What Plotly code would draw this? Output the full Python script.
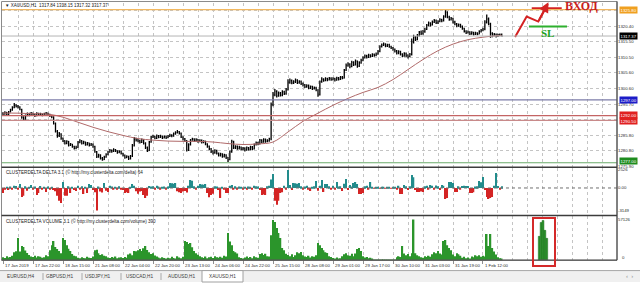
import plotly.graph_objects as go

# ---------------------------------------------------------------- data
x_labels = ["17 Jan 2019", "17 Jan 22:00", "18 Jan 15:00", "21 Jan 08:00", "22 Jan 04:00",
            "22 Jan 20:00", "23 Jan 13:00", "24 Jan 06:00", "24 Jan 22:00", "25 Jan 15:00",
            "28 Jan 08:00", "29 Jan 01:00", "29 Jan 17:00", "30 Jan 10:00", "31 Jan 03:00",
            "31 Jan 19:00", "1 Feb 12:00"]
label_step = 16          # bars between time labels
grid_step = 8            # bars between vertical grid lines

first_open = 1292.9
price_close = [
    1292.6, 1293.0, 1292.4, 1293.2, 1293.8, 1294.6, 1295.3, 1295.0,
    1294.8, 1294.0, 1291.5, 1290.8, 1292.0, 1292.6, 1292.2, 1292.8,
    1292.4, 1292.0, 1292.7, 1292.3, 1292.5, 1292.1, 1292.6, 1292.8,
    1292.4, 1292.0, 1291.6, 1289.5, 1287.0, 1285.6, 1286.2, 1284.8,
    1284.0, 1283.2, 1283.8, 1282.6, 1282.9, 1282.2, 1281.6, 1281.9,
    1283.5, 1284.0, 1283.2, 1283.6, 1282.8, 1283.3, 1282.6, 1282.9,
    1282.2, 1280.5, 1278.9, 1279.4, 1278.4, 1278.0, 1278.8, 1279.6,
    1280.4, 1281.0, 1280.6, 1281.2, 1280.8, 1280.3, 1280.7, 1280.0,
    1279.4, 1278.7, 1279.0, 1278.3, 1279.1, 1282.5, 1284.6, 1284.2,
    1284.0, 1283.5, 1284.3, 1283.2, 1281.8, 1280.9, 1283.6, 1285.2,
    1285.4, 1284.8, 1285.6, 1285.1, 1285.5, 1284.9, 1285.3, 1285.0,
    1285.4, 1285.8, 1285.5, 1286.2, 1286.6, 1286.9, 1286.4, 1285.2,
    1284.6, 1284.0, 1281.0, 1282.8, 1284.2, 1284.6, 1284.0, 1284.4,
    1283.8, 1284.2, 1283.5, 1283.9, 1283.0, 1282.2, 1281.4, 1280.6,
    1280.2, 1280.9, 1280.0, 1279.4, 1279.8, 1279.0, 1279.5, 1278.6,
    1278.0, 1280.5, 1283.8, 1281.8, 1282.2, 1281.5, 1282.0, 1281.3,
    1281.6, 1281.0, 1281.8, 1281.3, 1282.0, 1281.4, 1282.8, 1283.4,
    1283.0, 1284.2, 1283.6, 1284.4, 1283.8, 1284.0, 1284.6, 1295.5,
    1298.6, 1299.8, 1298.3, 1299.2, 1298.5, 1299.6, 1299.0, 1300.2,
    1302.6, 1303.2, 1302.4, 1302.8, 1303.3, 1302.5, 1302.9, 1302.2,
    1301.8, 1301.2, 1301.6, 1300.8, 1301.3, 1300.6, 1300.9, 1300.2,
    1298.6, 1302.8, 1303.6, 1303.2, 1303.8, 1303.4, 1303.9, 1303.5,
    1303.8, 1303.3, 1304.0, 1303.6, 1304.2, 1304.0, 1306.5, 1308.0,
    1308.4, 1307.6, 1309.0, 1308.2, 1309.4, 1307.8, 1308.8, 1309.6,
    1310.4, 1311.0, 1310.6, 1311.3, 1310.9, 1311.5, 1311.2, 1311.6,
    1312.5, 1314.0, 1314.5, 1314.8, 1314.2, 1314.6, 1314.0, 1313.6,
    1313.2, 1312.6, 1312.0, 1312.4, 1311.6, 1311.0, 1311.8, 1311.2,
    1310.8, 1311.5, 1315.5, 1317.0, 1316.2, 1317.5, 1318.6, 1318.2,
    1318.8, 1319.5, 1320.8, 1321.5, 1320.9, 1321.8, 1322.3, 1321.6,
    1322.0, 1322.6, 1322.2, 1323.6, 1325.0, 1323.4, 1322.6, 1323.0,
    1321.8, 1321.2, 1320.6, 1321.0, 1320.4, 1319.8, 1318.9, 1318.4,
    1318.7, 1318.1, 1318.5, 1317.9, 1318.3, 1318.0, 1318.8, 1319.2,
    1319.6, 1321.8, 1322.8, 1321.2, 1318.2, 1317.6, 1317.9, 1317.3,
    1317.8, 1317.84, 1317.37]
price_high = [
    1293.1, 1293.4, 1293.2, 1293.5, 1294.2, 1295.0, 1296.0, 1295.6,
    1295.4, 1295.0, 1294.2, 1291.8, 1292.4, 1293.0, 1292.9, 1293.2,
    1292.9, 1292.6, 1293.1, 1292.9, 1292.9, 1292.7, 1292.9, 1293.2,
    1292.9, 1292.6, 1292.2, 1291.8, 1289.8, 1287.4, 1286.8, 1286.4,
    1285.0, 1284.2, 1284.2, 1283.9, 1283.3, 1283.0, 1282.4, 1282.4,
    1283.9, 1284.5, 1284.2, 1284.0, 1283.7, 1283.6, 1283.4, 1283.3,
    1283.1, 1282.4, 1280.7, 1279.9, 1279.7, 1278.8, 1279.2, 1280.0,
    1280.8, 1281.4, 1281.2, 1281.6, 1281.4, 1281.0, 1281.0, 1280.9,
    1280.2, 1279.6, 1279.4, 1279.2, 1279.5, 1283.0, 1285.2, 1285.0,
    1284.6, 1284.3, 1284.7, 1284.5, 1283.5, 1282.2, 1283.9, 1285.6,
    1285.9, 1285.6, 1286.0, 1285.8, 1285.9, 1285.7, 1285.7, 1285.6,
    1285.8, 1286.2, 1286.1, 1286.6, 1287.0, 1287.4, 1287.1, 1286.6,
    1285.4, 1284.9, 1284.2, 1283.2, 1284.6, 1285.0, 1284.8, 1284.8,
    1284.6, 1284.5, 1284.4, 1284.2, 1284.0, 1283.2, 1282.5, 1281.7,
    1281.0, 1281.3, 1281.1, 1280.3, 1280.2, 1280.0, 1279.9, 1279.7,
    1278.9, 1280.9, 1284.3, 1284.0, 1282.6, 1282.5, 1282.4, 1282.2,
    1282.0, 1281.9, 1282.2, 1282.0, 1282.4, 1282.3, 1283.1, 1283.8,
    1283.7, 1284.6, 1284.5, 1284.8, 1284.7, 1284.5, 1285.0, 1296.2,
    1299.5, 1300.5, 1300.1, 1299.7, 1299.5, 1300.1, 1299.9, 1300.8,
    1303.6, 1303.8, 1303.5, 1303.3, 1303.8, 1303.6, 1303.3, 1303.2,
    1302.6, 1302.1, 1302.0, 1301.9, 1301.6, 1301.5, 1301.3, 1301.2,
    1300.4, 1303.2, 1304.2, 1303.9, 1304.2, 1304.1, 1304.3, 1304.2,
    1304.2, 1304.1, 1304.4, 1304.3, 1304.6, 1304.6, 1306.9, 1308.6,
    1309.0, 1308.7, 1309.5, 1309.3, 1309.9, 1309.6, 1309.3, 1310.1,
    1310.9, 1311.5, 1311.4, 1311.7, 1311.6, 1311.9, 1311.8, 1312.1,
    1312.9, 1314.4, 1315.0, 1315.3, 1315.1, 1314.9, 1314.9, 1314.3,
    1313.9, 1313.4, 1312.9, 1312.8, 1312.7, 1311.9, 1312.2, 1312.1,
    1311.6, 1312.0, 1316.6, 1317.8, 1317.4, 1318.0, 1319.0, 1319.1,
    1319.3, 1320.0, 1321.2, 1322.0, 1321.8, 1322.3, 1322.8, 1322.6,
    1322.4, 1323.0, 1322.9, 1324.0, 1325.9, 1325.3, 1323.8, 1323.4,
    1323.1, 1322.2, 1321.5, 1321.4, 1321.3, 1320.7, 1320.0, 1319.2,
    1319.1, 1318.9, 1318.9, 1318.7, 1318.7, 1318.6, 1319.2, 1319.6,
    1320.0, 1322.4, 1324.2, 1323.3, 1321.6, 1318.6, 1318.3, 1318.2,
    1318.1, 1318.2, 1318.15]
price_low = [
    1292.2, 1292.3, 1292.0, 1292.2, 1293.0, 1293.6, 1294.4, 1294.6,
    1294.3, 1293.7, 1291.0, 1290.3, 1290.7, 1291.8, 1291.8, 1292.0,
    1292.0, 1291.6, 1291.8, 1292.0, 1292.0, 1291.8, 1291.9, 1292.3,
    1292.0, 1291.6, 1291.2, 1289.2, 1286.6, 1285.0, 1285.2, 1284.3,
    1283.6, 1282.8, 1282.9, 1282.2, 1282.3, 1281.8, 1281.2, 1281.3,
    1281.8, 1283.2, 1282.8, 1282.9, 1282.4, 1282.5, 1282.2, 1282.3,
    1281.8, 1280.2, 1278.5, 1278.6, 1278.0, 1277.6, 1277.9, 1278.6,
    1279.4, 1280.2, 1280.2, 1280.4, 1280.4, 1279.9, 1280.0, 1279.6,
    1279.0, 1278.3, 1278.4, 1277.9, 1278.0, 1278.8, 1282.2, 1283.8,
    1283.5, 1283.1, 1283.3, 1282.8, 1281.4, 1280.4, 1280.7, 1283.4,
    1284.9, 1284.5, 1284.6, 1284.8, 1284.9, 1284.6, 1284.7, 1284.6,
    1284.8, 1285.2, 1285.1, 1285.3, 1285.9, 1286.3, 1286.0, 1284.9,
    1284.1, 1283.6, 1280.6, 1280.7, 1282.5, 1284.0, 1283.6, 1283.7,
    1283.4, 1283.5, 1283.1, 1283.2, 1282.6, 1281.8, 1281.0, 1280.1,
    1279.6, 1279.9, 1279.6, 1279.0, 1279.0, 1278.6, 1278.7, 1278.2,
    1277.2, 1277.8, 1280.2, 1281.4, 1281.4, 1281.1, 1281.2, 1280.9,
    1281.0, 1280.6, 1280.8, 1280.9, 1281.0, 1281.0, 1281.2, 1282.5,
    1282.6, 1282.8, 1283.2, 1283.4, 1283.4, 1283.5, 1283.7, 1284.2,
    1295.0, 1298.2, 1297.8, 1298.0, 1298.1, 1298.2, 1298.6, 1298.7,
    1300.0, 1302.2, 1302.0, 1302.1, 1302.4, 1302.1, 1302.2, 1301.8,
    1301.3, 1300.8, 1300.9, 1300.4, 1300.5, 1300.2, 1300.3, 1299.8,
    1298.0, 1298.4, 1302.5, 1302.8, 1303.0, 1303.0, 1303.2, 1303.1,
    1303.2, 1302.9, 1303.1, 1303.2, 1303.4, 1303.6, 1303.8, 1306.2,
    1307.6, 1307.1, 1307.4, 1307.8, 1308.0, 1307.3, 1307.5, 1308.5,
    1309.3, 1310.2, 1310.2, 1310.4, 1310.5, 1310.7, 1310.8, 1310.9,
    1311.4, 1312.2, 1313.7, 1314.2, 1313.8, 1313.9, 1313.6, 1313.2,
    1312.7, 1312.1, 1311.5, 1311.6, 1311.2, 1310.6, 1310.8, 1310.7,
    1310.2, 1310.6, 1311.2, 1315.0, 1315.8, 1316.0, 1317.2, 1317.7,
    1317.8, 1318.4, 1319.3, 1320.5, 1320.4, 1320.7, 1321.5, 1321.2,
    1321.2, 1321.8, 1321.8, 1322.0, 1323.2, 1323.0, 1322.2, 1322.3,
    1321.4, 1320.8, 1320.2, 1320.3, 1320.0, 1319.4, 1318.5, 1318.0,
    1318.2, 1317.7, 1317.8, 1317.5, 1317.7, 1317.6, 1317.9, 1318.5,
    1318.9, 1319.2, 1321.4, 1320.8, 1316.8, 1317.0, 1317.3, 1316.9,
    1317.1, 1317.3, 1317.32]

ma_step = 8
ma_values = [1292.8, 1292.8, 1292.6, 1292.5, 1291.5, 1289.9, 1288.3, 1286.9,
             1285.7, 1284.7, 1284.2, 1283.9, 1283.8, 1283.8, 1283.6, 1283.1,
             1282.8, 1283.0, 1283.6, 1286.8, 1290.2, 1292.8, 1295.3, 1297.5,
             1299.4, 1301.0, 1303.5, 1306.7, 1309.9, 1312.7, 1314.8, 1316.2,
             1317.0, 1317.5, 1317.6]

delta = [
    -700, -250, 180, -300, 220, -150, 300, 260,
    -200, 560, -1250, -1100, 250, -400, 180, 420,
    -180, 200, -970, -700, 260, -200, 150, -560,
    200, -250, 180, -300, -450, -1100, -1800, -2090,
    830, -1100, -1100, 250, -700, 180, -300, -420,
    300, -200, 250, -830, 180, -700, 560, 400,
    -300, -600, -3149, 220, -500, -650, 700, -400,
    -550, 300, 200, -250, 180, -200, 250, -150,
    -300, -700, -600, -700, 150, 560, 300, -450,
    -800, -500, -420, -1000, -1400, -1100, 280, 200,
    250, -180, 300, 200, -250, 180, 220, -150,
    200, 700, 650, 600, 700, -450, -600, -700,
    -500, -420, -650, 300, 1110, 1000, 250, -200,
    300, 560, 500, 450, 560, -700, -1300, -1000,
    -800, 250, 200, -300, -1400, 180, -250, -700,
    -700, 300, 400, -200, 250, -180, 200, 150,
    -150, 180, -200, 220, 150, -180, 300, 250,
    200, -300, -970, -900, -970, 250, 300, 1200,
    1950, -1800, -2350, -1800, -700, -600, 300, -250,
    2526, 400, -300, 700, 650, 600, 700, 250,
    -250, 200, 300, -200, -420, 180, 250, 970,
    -400, 300, 1100, -560, 560, 560, 250, -200,
    300, -250, 830, 200, 250, -420, 600, 1250,
    -300, 400, 200, 700, 830, 560, -830, -830,
    -700, 250, 300, -200, 830, 150, -100, 120,
    100, -80, 120, 90, -100, 120, 90, -80,
    150, 120, -250, 300, -830, -830, 420, 250,
    -300, 250, 1800, 1500, -300, -560, -560, -500,
    -560, 250, 300, -250, 400, 300, -200, 350,
    250, -300, 400, 300, -1530, -1400, 830, 830,
    700, -560, -560, 250, -200, 280, 300, 280,
    280, -700, -700, -600, 200, 250, 970, 800,
    1530, -300, -1250, -1530, -1400, -1250, 300, 2100,
    280, -200, 250]

volume = [
    4200, 3100, 5600, 3800, 4500, 6200, 11000, 12500,
    31000, 12000, 19700, 18300, 13500, 10200, 7100, 5200,
    4300, 6100, 3600, 5400, 4800, 3200, 4100, 6800,
    5600, 14000, 21000, 26800, 18300, 15500, 12700, 9800,
    31000, 28200, 21000, 16000, 12700, 8500, 6200, 5600,
    3500, 2800, 4200, 3100, 2500, 4600, 3300, 2900,
    5200, 14000, 14500, 9800, 7100, 8400, 6000, 5300,
    3800, 2900, 4500, 3400, 5100, 2800, 3600, 4200,
    3000, 4400, 3200, 7800, 9200, 7000, 13000, 12500,
    14000, 15500, 13000, 16800, 19700, 14200, 11000, 8500,
    9800, 6400, 5200, 3800, 2600, 4100, 3000, 2200,
    3400, 2700, 4800, 3100, 2400, 5300, 3600, 2800,
    4900, 26800, 25400, 22500, 24000, 18000, 12700, 9800,
    7500, 5600, 4200, 3100, 5000, 2700, 3900, 4600,
    3000, 5400, 4100, 3500, 4800, 3300, 6200, 5200,
    38000, 26000, 21000, 13000, 11000, 9500, 4200, 3100,
    2400, 3800, 5200, 3000, 4500, 2600, 5600, 4100,
    3300, 8500, 9800, 7200, 8900, 5400, 5000, 35000,
    56400, 53600, 45000, 38000, 31000, 17000, 14000, 9000,
    7200, 5600, 8400, 4300, 6800, 11000, 9800, 11500,
    7000, 5200, 4400, 6100, 3800, 5500, 4700, 6900,
    24000, 21000, 17000, 14000, 11000, 10000, 5300, 4400,
    3000, 2200, 3600, 1900, 2800, 5600, 8400, 9800,
    7000, 6200, 8900, 5600, 9400, 15500, 17000, 13000,
    5600, 3800, 4500, 2800, 3200, 1100, 800, 700,
    600, 700, 500, 700, 600, 800, 700, 600,
    700, 900, 4200, 5600, 4500, 19700, 9200, 7000,
    8500, 5600, 9800, 57126, 9800, 7000, 5600, 4200,
    3500, 5600, 4400, 6200, 4800, 8400, 11000, 9800,
    12700, 9200, 7800, 27000, 28200, 21000, 17000, 14000,
    7800, 5600, 9800, 8400, 6200, 3500, 4800, 2800,
    3600, 2400, 5000, 4200, 6800, 5600, 7000, 4800,
    6300, 5200, 36700, 19700, 36700, 17000, 12000, 8000,
    4200, 2800, 1800]

# hand-drawn volume sketch inside the red box (bar positions beyond the data)
sketch_bars = [286, 287, 288, 289, 290]
sketch_volume = [33400, 52900, 55700, 41800, 30600]

# price axis grid values and their labels ("" where a level label hides them)
price_ticks = [1275.9, 1280.85, 1285.8, 1290.75, 1295.7, 1300.65, 1305.6, 1310.55, 1315.5, 1320.45, 1325.4]
price_tick_text = ["1275.90", "1280.80", "1285.80", "", "1295.70", "1300.60",
                   "1305.60", "1310.50", "1315.50", "1320.40", ""]

# horizontal levels drawn on the chart
level_prices = [1325.80, 1297.00, 1292.00, 1290.50, 1277.00]
level_line_colors = ["#f2b860", "#7c7ca8", "#c46464", "#c88a8a", "#6aaa6a"]
level_box_colors = ["#f0a020", "#1c1cc8", "#e02020", "#e02020", "#1e8c1e"]
level_label_shift = [0, 0, 0.7, -0.7, 1.6]
last_price = 1317.37

delta_ticks = [2526, 0, -3149]
delta_tick_text = ["2526", "0.00", "-3149"]
volume_max = 57126

# trader's drawing: entry arrow, entry level, stop level
arrow_bars = [273.1, 279.3, 285.5, 290.6]
arrow_prices = [1317.05, 1323.56, 1321.98, 1327.6]
entry_bars = [282.0, 298.0]
entry_price = 1326.2
stop_bars = [280.5, 300.8]
stop_price = 1320.4

tab_names = ["EURUSD,H4", "GBPUSD,H1", "USDJPY,H1", "USDCAD,H1", "AUDUSD,H1", "XAUUSD,H1"]
tab_centers = [20, 59, 98, 139.5, 181, 222]

title_text = "\u25bc XAUUSD,H1  1317.84 1318.15 1317.32 1317.37"
delta_title = "CLUSTERDELTA DELTA 3.1 (\u00a9 http://my.clusterdelta.com/delta) 64"
volume_title = "CLUSTERDELTA VOLUME 3.1 (\u00a9 http://my.clusterdelta.com/volume) 390"

# ---------------------------------------------------------------- geometry helpers
W, H = 640, 284
PL, PR = 2, 617


def X(px):
    return (px - PL) / (PR - PL)


def Y(py):
    return 1 - py / H


n = len(price_close)
assert len(price_high) == n and len(price_low) == n and len(delta) == n and len(volume) == n, \
    (n, len(price_high), len(price_low), len(delta), len(volume))
bars = list(range(n))
price_open = [first_open] + price_close[:-1]
ma_bars = list(range(0, n - 1, ma_step)) + [n - 1]
x_range = [-0.533, 327.47]

FONT = "Liberation Sans"
TXT = "#2a2a2a"
AX_FS = 4.3

fig = go.Figure()
fig.add_trace(go.Ohlc(
    x=bars, open=price_open, high=price_high, low=price_low, close=price_close,
    increasing=dict(line=dict(color="#000000", width=1.3)),
    decreasing=dict(line=dict(color="#000000", width=1.3)),
    tickwidth=0.4, xaxis="x", yaxis="y", hoverinfo="skip"))
fig.add_trace(go.Scatter(
    x=ma_bars, y=ma_values, mode="lines",
    line=dict(color="#b06a6a", width=1, shape="spline"), xaxis="x", yaxis="y", hoverinfo="skip"))
fig.add_trace(go.Scatter(
    x=arrow_bars, y=arrow_prices, mode="lines",
    line=dict(color="#d42222", width=2), xaxis="x", yaxis="y", hoverinfo="skip"))
fig.add_trace(go.Scatter(
    x=entry_bars, y=[entry_price] * 2, mode="lines",
    line=dict(color="#d42222", width=2), xaxis="x", yaxis="y", hoverinfo="skip"))
fig.add_trace(go.Scatter(
    x=stop_bars, y=[stop_price] * 2, mode="lines",
    line=dict(color="#2eb02e", width=2), xaxis="x", yaxis="y", hoverinfo="skip"))

delta_colors = ["#228c8c" if v >= 0 else "#d42424" for v in delta]
fig.add_trace(go.Bar(x=bars, y=delta, width=0.7, marker=dict(color=delta_colors, line=dict(width=0)),
                     xaxis="x2", yaxis="y2", hoverinfo="skip"))
fig.add_trace(go.Bar(x=bars, y=volume, width=0.8, marker=dict(color="#2b952b", line=dict(width=0)),
                     xaxis="x3", yaxis="y3", hoverinfo="skip"))
fig.add_trace(go.Bar(x=sketch_bars, y=sketch_volume, width=1.0,
                     marker=dict(color="#2b952b", line=dict(color="#1d6a1d", width=0.5)),
                     xaxis="x3", yaxis="y3", hoverinfo="skip"))

GRID_C = "#c4c4c4"
xcommon = dict(range=x_range, showline=False, zeroline=False, showticklabels=False,
               tickmode="array", tickvals=[k * label_step for k in range(len(x_labels))],
               showgrid=True, gridcolor=GRID_C, griddash="dot", gridwidth=1,
               minor=dict(dtick=grid_step, tick0=0, showgrid=True, gridcolor=GRID_C,
                          griddash="dot", ticks=""),
               fixedrange=True)

layout = dict(
    width=W, height=H, margin=dict(l=PL, r=W - PR, t=0, b=0, pad=0),
    paper_bgcolor="#ffffff", plot_bgcolor="#ffffff",
    showlegend=False, barmode="overlay", hovermode=False,
    font=dict(family=FONT, size=AX_FS, color=TXT),
    xaxis=dict(xcommon, anchor="y", domain=[0, 1], ticks="", rangeslider=dict(visible=False)),
    xaxis2=dict(xcommon, anchor="y2", domain=[0, 1], ticks="", matches="x"),
    xaxis3=dict(xcommon, anchor="y3", domain=[0, 1], ticks="outside", ticklen=3,
                tickcolor="#909090", tickwidth=1, matches="x"),
    yaxis=dict(domain=[Y(168), Y(3)], range=[1275.7, 1327.9], side="right", anchor="x",
               tickmode="array", tickvals=price_ticks, ticktext=price_tick_text,
               showgrid=True, gridcolor=GRID_C, griddash="dot", ticks="",
               zeroline=False, showline=False, tickfont=dict(size=AX_FS, color=TXT), fixedrange=True),
    yaxis2=dict(domain=[Y(217), Y(169)], range=[-3847, 2819], side="right", anchor="x2",
                tickmode="array", tickvals=delta_ticks, ticktext=delta_tick_text,
                showgrid=False, ticks="", zeroline=False, showline=False,
                tickfont=dict(size=AX_FS, color=TXT), fixedrange=True),
    yaxis3=dict(domain=[Y(262), Y(218)], range=[0, 61300], side="right", anchor="x3",
                tickmode="array", tickvals=[volume_max], ticktext=[str(volume_max)],
                showgrid=False, ticks="", zeroline=False, showline=False,
                tickfont=dict(size=AX_FS, color=TXT), fixedrange=True),
)

shapes = []
for p, c in zip(level_prices, level_line_colors):
    shapes.append(dict(type="line", xref="paper", yref="y", x0=0, x1=1, y0=p, y1=p,
                       line=dict(color=c, width=1.2)))
shapes.append(dict(type="line", xref="paper", yref="y", x0=0, x1=1, y0=last_price, y1=last_price,
                   line=dict(color="#b4b4b4", width=1)))
shapes.append(dict(type="line", xref="paper", yref="y2", x0=0, x1=1, y0=0, y1=0,
                   line=dict(color="#707070", width=1, dash="dot")))
shapes.append(dict(type="rect", xref="paper", yref="paper", x0=X(1.5), x1=X(PR), y0=Y(262), y1=Y(1.5),
                   line=dict(color="#8a8a8a", width=1)))
for sy in (168.5, 217):
    shapes.append(dict(type="line", xref="paper", yref="paper", x0=X(1.5), x1=X(PR), y0=Y(sy), y1=Y(sy),
                       line=dict(color="#3c3c3c", width=1.6)))
shapes.append(dict(type="line", xref="paper", yref="paper", x0=X(PR), x1=X(PR), y0=Y(262), y1=Y(1.5),
                   line=dict(color="#3c3c3c", width=1)))
shapes.append(dict(type="line", xref="paper", yref="paper", x0=X(1.5), x1=X(PR), y0=Y(262), y1=Y(262),
                   line=dict(color="#3c3c3c", width=1)))
shapes.append(dict(type="rect", xref="paper", yref="paper", x0=X(533), x1=X(555), y0=Y(268), y1=Y(219.5),
                   line=dict(color="#d42a2a", width=2)))
shapes.append(dict(type="rect", xref="paper", yref="paper", x0=X(0), x1=X(W), y0=Y(H), y1=Y(272),
                   fillcolor="#f0f0f0", line=dict(width=0), layer="below"))
shapes.append(dict(type="line", xref="paper", yref="paper", x0=X(0), x1=X(W), y0=Y(272.5), y1=Y(272.5),
                   line=dict(color="#a8a8a8", width=1)))
shapes.append(dict(type="rect", xref="paper", yref="paper", x0=X(202), x1=X(243), y0=Y(284), y1=Y(272.5),
                   fillcolor="#ffffff", line=dict(color="#a0a0a0", width=1)))
for sx in (43, 82, 121, 161):
    shapes.append(dict(type="line", xref="paper", yref="paper", x0=X(sx), x1=X(sx), y0=Y(282), y1=Y(275),
                       line=dict(color="#a8a8a8", width=1)))
layout["shapes"] = shapes

ann = []
ann.append(dict(text=title_text, xref="paper", yref="paper", x=X(3), y=Y(5.5), xanchor="left",
                yanchor="middle", showarrow=False, font=dict(size=4.5, color="#202020")))
ann.append(dict(text=delta_title, xref="paper", yref="paper", x=X(4), y=Y(173.5), xanchor="left",
                yanchor="middle", showarrow=False, font=dict(size=4.6, color="#202020")))
ann.append(dict(text=volume_title, xref="paper", yref="paper", x=X(4), y=Y(222.5), xanchor="left",
                yanchor="middle", showarrow=False, font=dict(size=4.6, color="#202020")))
for k, t in enumerate(x_labels):
    ann.append(dict(text=t, xref="x3", yref="paper", x=k * label_step, y=Y(267.5), xanchor="left",
                    yanchor="middle", showarrow=False, font=dict(size=AX_FS, color=TXT)))
for p, c, s in zip(level_prices, level_box_colors, level_label_shift):
    ann.append(dict(text="%.2f" % p, xref="paper", yref="y", x=X(619), y=p, xanchor="left",
                    yanchor="middle", showarrow=False, bgcolor=c, borderpad=0.5, yshift=s,
                    font=dict(size=AX_FS, color="#ffffff")))
ann.append(dict(text="%.2f" % last_price, xref="paper", yref="y", x=X(619), y=last_price, xanchor="left",
                yanchor="middle", showarrow=False, bgcolor="#000000", borderpad=0.5,
                font=dict(size=AX_FS, color="#ffffff")))
ann.append(dict(text="0", xref="paper", yref="paper", x=X(620), y=Y(259.5), xanchor="left",
                yanchor="middle", showarrow=False, font=dict(size=AX_FS, color=TXT)))
ann.append(dict(text="<b>ВХОД</b>", xref="x", yref="y", x=entry_bars[1] + 0.6, y=entry_price + 0.75,
                xanchor="left", yanchor="middle", showarrow=False,
                font=dict(family="Liberation Serif", size=12, color="#c81e1e")))
ann.append(dict(text="<b>SL</b>", xref="x", yref="y", x=(stop_bars[0] + stop_bars[1]) / 2 - 0.5,
                y=stop_price - 2.0, xanchor="center", yanchor="middle", showarrow=False,
                font=dict(family="Liberation Serif", size=11, color="#22a422")))
ann.append(dict(text="", xref="x", yref="y", x=arrow_bars[-1] + 0.3, y=arrow_prices[-1] + 0.5,
                axref="x", ayref="y", ax=arrow_bars[-2], ay=arrow_prices[-2],
                showarrow=True, arrowhead=2, arrowsize=1, arrowwidth=2, arrowcolor="#d42222"))
for name, cx in zip(tab_names, tab_centers):
    ann.append(dict(text=name, xref="paper", yref="paper", x=X(cx), y=Y(278.5), xanchor="center",
                    yanchor="middle", showarrow=False, font=dict(size=4.7, color="#3a3a3a")))
ann.append(dict(text="\u2039  \u203a", xref="paper", yref="paper", x=X(629), y=Y(278), xanchor="center",
                yanchor="middle", showarrow=False, font=dict(size=6, color="#909090")))
layout["annotations"] = ann

fig.update_layout(**layout)
fig.write_html("out.html")
